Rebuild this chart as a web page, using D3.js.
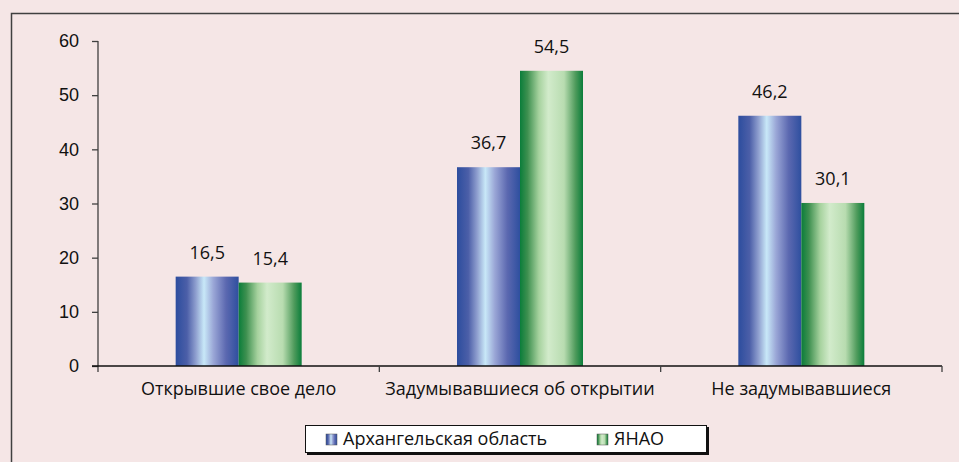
<!DOCTYPE html>
<html>
<head>
<meta charset="utf-8">
<script src="https://cdn.jsdelivr.net/npm/d3@7"></script>
<style>
  body { margin: 0; background: #f5e6e6; }
  svg { display: block; font-family: "Open Sans", "Noto Sans", sans-serif; }
</style>
</head>
<body>
<svg id="chart" width="959" height="462"></svg>
<script>
// Data
const categories = ['Открывшие свое дело', 'Задумывавшиеся об открытии', 'Не задумывавшиеся'];
const seriesNames = ['Архангельская область', 'ЯНАО'];
const arkhValues = [16.5, 36.7, 46.2];
const yanaoValues = [15.4, 54.5, 30.1];
const yTicks = [0, 10, 20, 30, 40, 50, 60];

const svg = d3.select('#chart');
const margin = {left: 98, right: 17, top: 41, bottom: 96};
const width = 959, height = 462;
const innerW = width - margin.left - margin.right;
const innerH = height - margin.top - margin.bottom;
const fontSize = 18;

svg.append('rect').attr('width', width).attr('height', height).attr('fill', '#f5e6e6');

// outer frame (runs off the right and bottom edges)
svg.append('path')
    .attr('d', `M11.5,${height + 2} V13.5 H${width + 2}`)
    .attr('fill', 'none').attr('stroke', '#404040').attr('stroke-width', 1.5);

// Gradients for cylinder-ish bars
const defs = svg.append('defs');
const gradStops = {
    blue: [[0, '#2c4d9e'], [0.18, '#4c5fa8'], [0.32, '#8f9fcf'], [0.45, '#c8e8f8'], [0.6, '#9aa6d6'], [0.8, '#5b68b0'], [1, '#2e4f9f']],
    green: [[0, '#0a7d3a'], [0.12, '#3e9050'], [0.3, '#a6d29e'], [0.45, '#d2ebcb'], [0.7, '#b8dcb0'], [0.88, '#4f9b5c'], [1, '#0a7d3a']]
};
Object.entries(gradStops).forEach(([id, stops]) => {
    const g = defs.append('linearGradient').attr('id', 'grad-' + id)
        .attr('x1', '0%').attr('x2', '100%').attr('y1', '0%').attr('y2', '0%');
    stops.forEach(s => g.append('stop').attr('offset', s[0]).attr('stop-color', s[1]));
});

const chart = svg.append('g').attr('transform', `translate(${margin.left},${margin.top})`);

const x0 = d3.scaleBand().domain(categories).range([0, innerW]).paddingInner(0).paddingOuter(0);
const x1 = d3.scaleBand().domain(seriesNames).range([0, 126]);
const barOffset = (x0.bandwidth() - 126) / 2;
const y = d3.scaleLinear().domain([0, 60]).range([innerH, 0]);

const rows = categories.map((c, i) => ({cat: c, vals: [
    {name: seriesNames[0], v: arkhValues[i], fill: 'url(#grad-blue)'},
    {name: seriesNames[1], v: yanaoValues[i], fill: 'url(#grad-green)'}
]}));

const groups = chart.selectAll('g.cat').data(rows).join('g')
    .attr('class', 'cat')
    .attr('transform', d => `translate(${x0(d.cat) + barOffset},0)`);

groups.selectAll('rect.bar').data(d => d.vals).join('rect')
    .attr('class', 'bar')
    .attr('x', d => x1(d.name))
    .attr('width', x1.bandwidth())
    .attr('y', d => y(d.v))
    .attr('height', d => innerH - y(d.v))
    .attr('fill', d => d.fill);

groups.selectAll('text.val').data(d => d.vals).join('text')
    .attr('class', 'val')
    .attr('x', d => x1(d.name) + x1.bandwidth() / 2)
    .attr('y', d => y(d.v) - 18)
    .attr('text-anchor', 'middle')
    .attr('font-size', fontSize)
    .attr('fill', '#111')
    .text(d => d3.format('.1f')(d.v).replace('.', ','));

// Axes
const yAxis = d3.axisLeft(y).tickValues(yTicks).tickSize(6).tickSizeOuter(0).tickPadding(13);
const yAxisG = chart.append('g').call(yAxis);
yAxisG.select('.domain').attr('stroke', '#404040').attr('stroke-width', 1.3)
    .attr('d', `M0,0V${innerH + 6}`);
yAxisG.selectAll('line').attr('stroke', '#404040').attr('stroke-width', 1.3);
yAxisG.selectAll('text').attr('font-size', fontSize).attr('fill', '#111').attr('font-family', null);

const xAxisG = chart.append('g').attr('transform', `translate(0,${innerH})`);
xAxisG.append('line').attr('x1', -6).attr('x2', innerW).attr('stroke', '#111').attr('stroke-width', 1.3);
xAxisG.selectAll('line.tick').data(categories.slice(1).map(c => x0(c)).concat([innerW])).join('line')
    .attr('class', 'tick')
    .attr('x1', d => d).attr('x2', d => d)
    .attr('y1', 0).attr('y2', 6)
    .attr('stroke', '#404040').attr('stroke-width', 1.3);
xAxisG.selectAll('text').data(categories).join('text')
    .attr('x', d => x0(d) + x0.bandwidth() / 2)
    .attr('y', 29)
    .attr('text-anchor', 'middle')
    .attr('font-size', fontSize)
    .attr('fill', '#111')
    .text(d => d);

// Legend
const legend = svg.append('g').attr('transform', 'translate(305,425)');
legend.append('rect').attr('x', 2).attr('y', 2).attr('width', 402).attr('height', 28).attr('fill', '#111');
legend.append('rect').attr('x', 0.5).attr('y', 0.5).attr('width', 401).attr('height', 27)
    .attr('fill', '#fff').attr('stroke', '#111').attr('stroke-width', 1);
const legendItems = [
    {name: seriesNames[0], fill: 'url(#grad-blue)', x: 21},
    {name: seriesNames[1], fill: 'url(#grad-green)', x: 292}
];
const li = legend.selectAll('g.item').data(legendItems).join('g')
    .attr('class', 'item')
    .attr('transform', d => `translate(${d.x},9)`);
li.append('rect').attr('width', 11).attr('height', 11).attr('fill', d => d.fill)
    .attr('stroke', '#555').attr('stroke-width', 0.5);
li.append('text').attr('x', 17).attr('y', 11).attr('font-size', fontSize).attr('fill', '#111')
    .text(d => d.name);
</script>
</body>
</html>
